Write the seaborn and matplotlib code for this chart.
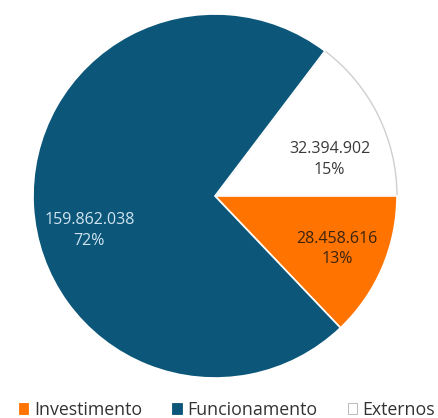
import matplotlib
matplotlib.use("Agg")
import matplotlib.pyplot as plt
from matplotlib.patches import Patch
import seaborn as sns

categories = ["Investimento", "Funcionamento", "Externos"]
values = [28458616, 159862038, 32394902]
colors = ["#ff7300", "#0b5679", "#ffffff"]
label_colors = ["#3a2410", "#cfe4f0", "#3a3a3a"]
label_pos = [(0.67, -0.29), (-0.69, -0.19), (0.63, 0.20)]

sns.set_theme(style="white")
plt.rcParams["font.family"] = ["Open Sans", "DejaVu Sans"]

fig = plt.figure(figsize=(4.39, 4.18), dpi=100)
ax = fig.add_axes([0, 0, 1, 1])

wedges, _ = ax.pie(values, colors=colors, startangle=0, counterclock=False,
                   radius=1.0, wedgeprops=dict(edgecolor="white", linewidth=1.2))
wedges[2].set_edgecolor("#cfcfcf")
wedges[2].set_linewidth(1.0)
wedges[2].set_zorder(0.5)

r_px = 182.0
cx, cy = 215.0, 418 - 196.0
ax.set_aspect("auto")
ax.set_xlim(-cx / r_px, (439 - cx) / r_px)
ax.set_ylim(-cy / r_px, (418 - cy) / r_px)
ax.axis("off")

total = sum(values)
for v, (x, y), c in zip(values, label_pos, label_colors):
    num = f"{v:,}".replace(",", ".")
    pct = f"{round(100 * v / total):d}%"
    ax.text(x, y, f"{num}\n{pct}", ha="center", va="center", fontsize=11.5,
            color=c, linespacing=1.35)

handles = [Patch(facecolor=col, edgecolor="#b0b0b0" if col == "#ffffff" else col,
                 linewidth=0.6) for col in colors]
fig.legend(handles, categories, loc="center", bbox_to_anchor=(227 / 439, 8 / 418),
           ncol=3, frameon=False, fontsize=12.8, handlelength=0.55, handleheight=0.55,
           handletextpad=0.3, columnspacing=1.7, labelcolor="#333333",
           borderpad=0, borderaxespad=0)

fig.savefig("out.png", dpi=100, facecolor="white")
